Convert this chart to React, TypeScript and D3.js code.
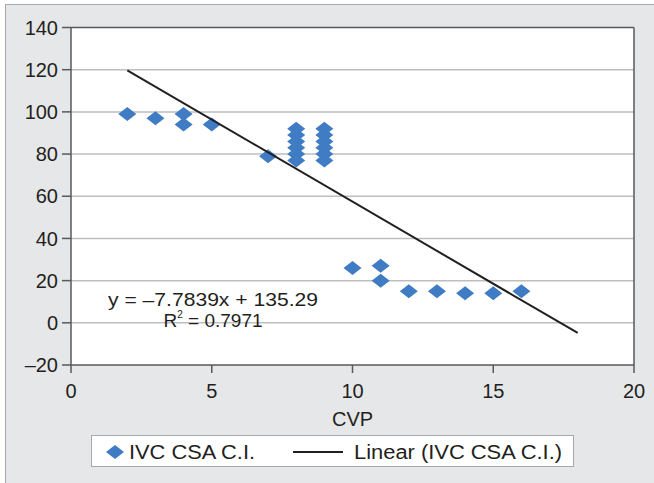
import * as d3 from "d3";

// CVP (x) vs IVC CSA collapsibility index (y)
const cvp = [2, 3, 4, 4, 5, 7, 8, 8, 8, 8, 8, 8, 9, 9, 9, 9, 9, 9, 10, 11, 11, 12, 13, 14, 15, 16];
const ivcCsaCI = [99, 97, 99, 94, 94, 79, 92, 89, 86, 83, 80, 77, 92, 89, 86, 83, 80, 77, 26, 27, 20, 15, 15, 14, 14, 15];

const slope = -7.7839;
const intercept = 135.29;
const trendRange = [2, 18];

const xTicks = [0, 5, 10, 15, 20];
const yTicks = [-20, 0, 20, 40, 60, 80, 100, 120, 140];

const W = 654, H = 483;
const PLOT = { left: 71, right: 634, top: 27.5, bottom: 365 };
const FONT = "'Liberation Sans', Arial, Helvetica, sans-serif";
const BLUE = "#3f7cc4";
const TXT = "#231f20";

// diamond marker, wider than tall like the Excel one
const diamond = (cx: number, cy: number, hw = 9, hh = 7) =>
  `M${cx},${cy - hh}L${cx + hw},${cy}L${cx},${cy + hh}L${cx - hw},${cy}Z`;

export default function App() {
  const x = d3.scaleLinear().domain([0, 20]).range([PLOT.left, PLOT.right]);
  const y = d3.scaleLinear().domain([-20, 140]).range([PLOT.bottom, PLOT.top]);
  const pts = cvp.map((c, i) => ({ c, v: ivcCsaCI[i] }));
  const trend = d3.line<number>().x(d => x(d)).y(d => y(slope * d + intercept));

  return (
    <svg width={W} height={H} style={{ position: "absolute", left: 0, top: 0, display: "block" }}
      fontFamily={FONT}>
      <rect x={0} y={0} width={W} height={H} fill="#ffffff" />
      <rect x={5.5} y={4.5} width={W + 10} height={H + 10} fill="#e6e7e8" stroke="#a7a9ac" />

      {/* plot area */}
      <rect x={PLOT.left} y={PLOT.top} width={PLOT.right - PLOT.left} height={PLOT.bottom - PLOT.top} fill="#fff" />

      {yTicks.map(t => (
        <g key={t}>
          <line x1={PLOT.left} x2={PLOT.right} y1={y(t)} y2={y(t)}
            stroke={t === -20 || t === 140 ? "#58595b" : "#bcbec0"} strokeWidth={1.5} />
          <line x1={PLOT.left - 9} x2={PLOT.left} y1={y(t)} y2={y(t)} stroke="#58595b" strokeWidth={1.5} />
          <text x={PLOT.left - 13} y={y(t)} dy="0.36em" textAnchor="end" fontSize={20} fill={TXT}>
            {t < 0 ? `–${-t}` : t}
          </text>
        </g>
      ))}

      {xTicks.map(t => (
        <g key={t}>
          <line x1={x(t)} x2={x(t)} y1={PLOT.bottom} y2={PLOT.bottom + 8} stroke="#58595b" strokeWidth={1.5} />
          <text x={x(t)} y={397.5} textAnchor="middle" fontSize={20} fill={TXT}>{t}</text>
        </g>
      ))}

      {/* axes frame */}
      <line x1={PLOT.left} x2={PLOT.left} y1={PLOT.top} y2={PLOT.bottom} stroke="#58595b" strokeWidth={1.5} />
      <line x1={PLOT.right} x2={PLOT.right} y1={PLOT.top} y2={PLOT.bottom} stroke="#58595b" strokeWidth={1.5} />

      {pts.map((p, i) => (
        <path key={i} d={diamond(x(p.c), y(p.v))} fill={BLUE} />
      ))}

      <path d={trend(trendRange) ?? ""} fill="none" stroke="#231f20" strokeWidth={2} />

      <text x={213} y={306} textAnchor="middle" fontSize={19} fill={TXT} textLength={210} lengthAdjust="spacingAndGlyphs">
        y = –7.7839x + 135.29
      </text>
      <text x={213} y={327} textAnchor="middle" fontSize={19} fill={TXT}>
        R<tspan fontSize={10} dy={-9}>2</tspan><tspan dy={9}> = 0.7971</tspan>
      </text>

      <text x={x(10)} y={426} textAnchor="middle" fontSize={20} fill={TXT}>CVP</text>

      {/* legend */}
      <rect x={91.5} y={435.5} width={482} height={31} fill="#fff" stroke="#a7a9ac" />
      <path d={diamond(115, 452, 9, 7)} fill={BLUE} />
      <text x={129} y={459} fontSize={20} fill={TXT} textLength={126} lengthAdjust="spacingAndGlyphs">IVC CSA C.I.</text>
      <line x1={293} x2={343} y1={452} y2={452} stroke="#231f20" strokeWidth={2} />
      <text x={354} y={459} fontSize={20} fill={TXT} textLength={208} lengthAdjust="spacingAndGlyphs">Linear (IVC CSA C.I.)</text>
    </svg>
  );
}
